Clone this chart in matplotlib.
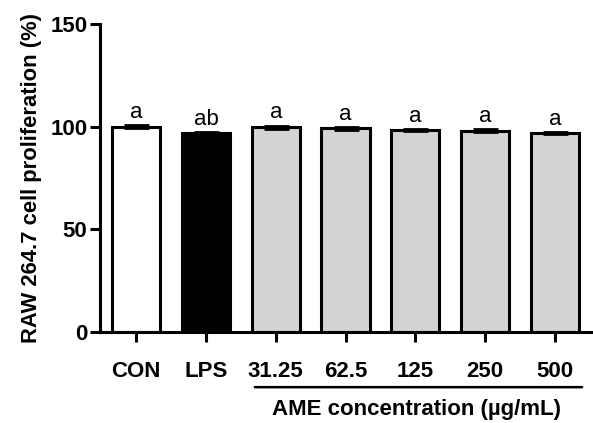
import matplotlib.pyplot as plt
import numpy as np

plt.rcParams['font.family'] = ['Liberation Sans', 'DejaVu Sans']

# Daten
groups = ["CON", "LPS", "31.25", "62.5", "125", "250", "500"]
values = [100.0, 97.0, 99.8, 99.2, 98.3, 98.0, 97.0]
errors = [0.8, 0.6, 0.8, 0.6, 0.6, 0.7, 0.6]
letters = ["a", "ab", "a", "a", "a", "a", "a"]
colors = ["white", "black", "#d3d3d3", "#d3d3d3", "#d3d3d3", "#d3d3d3", "#d3d3d3"]

fig = plt.figure(figsize=(5.93, 4.23), dpi=100)
ax = fig.add_axes([0.1686, 0.215, 0.8294, 0.728])

x = np.arange(len(groups))
ax.bar(x, values, width=0.69, color=colors, edgecolor="black", linewidth=2.2, zorder=2)
ax.errorbar(x, values, yerr=errors, fmt="none", ecolor="black", elinewidth=1.5,
            capsize=9, capthick=2, zorder=3)

# Signifikanz-Buchstaben
for xi, v, e, l in zip(x, values, errors, letters):
    ax.text(xi, v + e + 3.5, l, ha="center", va="baseline", fontsize=16)

ax.set_xlim(-0.52, 6.53)
ax.set_ylim(0, 150)
ax.set_yticks([0, 50, 100, 150])
ax.set_xticks(x)
ax.set_xticklabels(groups, fontsize=16, fontweight="bold")
for t in ax.get_yticklabels():
    t.set_fontsize(16)
    t.set_fontweight("bold")
ax.tick_params(axis="both", width=2.2, length=7, pad=2)
ax.tick_params(axis="x", pad=14)
ax.spines["top"].set_visible(False)
ax.spines["right"].set_visible(False)
ax.spines["left"].set_linewidth(2.2)
ax.spines["bottom"].set_linewidth(2.2)

ax.set_ylabel("RAW 264.7 cell proliferation (%)", fontsize=15.8, fontweight="bold", labelpad=6)

# Linie unter den AME-Konzentrationen
ax.annotate("", xy=(1.66, -0.179), xytext=(6.43, -0.179),
            xycoords=("data", "axes fraction"), textcoords=("data", "axes fraction"),
            arrowprops=dict(arrowstyle="-", linewidth=1.8, color="black"))
ax.text(4.01, -0.25, "AME concentration (µg/mL)", transform=ax.get_xaxis_transform(),
        ha="center", va="center", fontsize=16, fontweight="bold")

fig.savefig("out.png", dpi=100)
